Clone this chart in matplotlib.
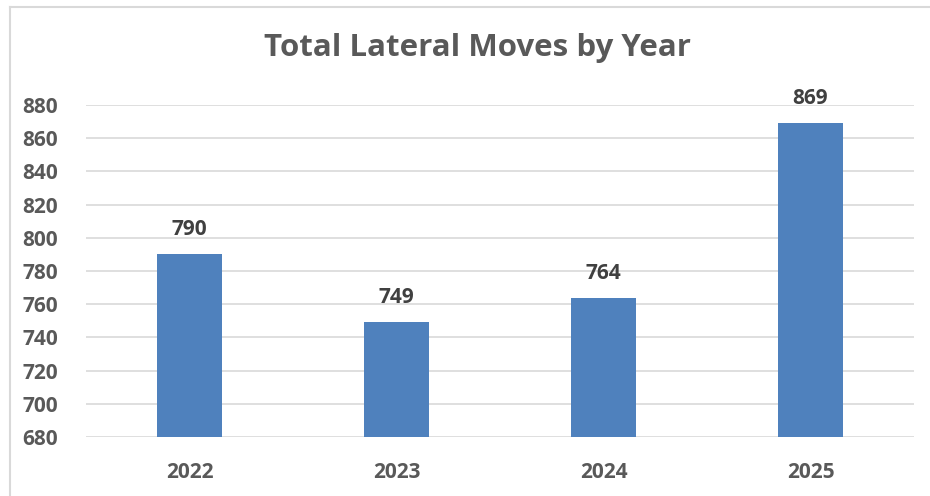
import matplotlib.pyplot as plt
from matplotlib.lines import Line2D

years = ['2022', '2023', '2024', '2025']
moves = [790, 749, 764, 869]
y_ticks = list(range(680, 881, 20))

W, H = 930, 496
fig = plt.figure(figsize=(W / 100, H / 100), dpi=100)
plt.rcParams['font.family'] = ['Open Sans', 'DejaVu Sans']

ax = fig.add_axes([86 / W, 1 - 437 / H, (914 - 86) / W, (437 - 105) / H])

x = list(range(len(years)))
ax.bar(x, moves, width=0.315, color='#4F81BD', zorder=3)
for xi, v in zip(x, moves):
    ax.annotate(str(v), (xi, v), xytext=(0, 14), textcoords='offset pixels',
                ha='center', va='bottom', fontsize=15, fontweight='bold',
                color='#404040', annotation_clip=False)

ax.set_xlim(-0.5, len(years) - 0.5)
ax.set_ylim(680, 880)
ax.set_yticks(y_ticks)
ax.set_xticks(x)
ax.set_xticklabels(years)
ax.grid(axis='y', color='#D9D9D9', linewidth=1.2, zorder=0)
for s in ax.spines.values():
    s.set_visible(False)
ax.tick_params(length=0, labelsize=15, labelcolor='#595959')
ax.tick_params(axis='y', pad=20)
ax.tick_params(axis='x', pad=18)
for lab in ax.get_xticklabels() + ax.get_yticklabels():
    lab.set_fontweight('bold')

fig.text(477 / W, 1 - 48 / H, 'Total Lateral Moves by Year', ha='center', va='center',
         fontsize=22.5, fontweight='bold', color='#595959')

# chart border
fig.add_artist(Line2D([10 / W, 1], [1 - 7 / H, 1 - 7 / H], color='#D9D9D9', linewidth=1.5))
fig.add_artist(Line2D([10 / W, 10 / W], [0, 1 - 7 / H], color='#D9D9D9', linewidth=1.5))

fig.savefig('out.png', dpi=100)
